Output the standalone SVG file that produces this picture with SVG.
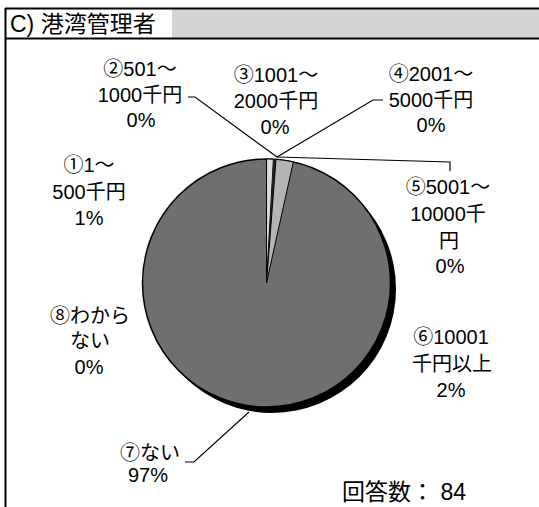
<svg xmlns="http://www.w3.org/2000/svg" width="539" height="507" viewBox="0 0 539 507">
<style>
.lbl{font-family:"Liberation Sans","Noto Sans CJK JP",sans-serif;font-size:20px;fill:#000;text-anchor:middle}
.ttl{font-family:"Liberation Sans","Noto Sans CJK JP",sans-serif;font-size:23px;fill:#000}
.c{font-family:"Noto Sans CJK JP",sans-serif}
.ld{fill:none;stroke:#000;stroke-width:1.2}
.sl{stroke:#000;stroke-width:1}
</style>
<rect x="0" y="0" width="539" height="507" fill="#fff"/>
<g id="frame">
<rect x="172" y="9" width="367" height="29" fill="#d4d4d4"/>
<line x1="5" y1="8.5" x2="539" y2="8.5" stroke="#000" stroke-width="2"/>
<line x1="5" y1="38.5" x2="539" y2="38.5" stroke="#000" stroke-width="2"/>
<line x1="5.5" y1="8" x2="5.5" y2="507" stroke="#000" stroke-width="2"/>
<text class="ttl" x="10" y="32">C) 港湾管理者</text>
</g>
<g id="pie">
<circle cx="272" cy="289" r="124" fill="#000"/>
<circle id="s7" cx="266.5" cy="283" r="124" fill="#6f6f6f" stroke="#000" stroke-width="1.5"/>
<path id="s1" class="sl" d="M266.5,283 L266.5,159 A124,124 0 0 1 273.42,159.19 Z" fill="#d8d8d8"/>
<path id="s2to5" d="M266.5,283 L273.42,159.19 A124,124 0 0 1 276.01,159.37 Z" fill="#222"/>
<path id="s6" class="sl" d="M266.5,283 L276.01,159.37 A124,124 0 0 1 293.34,161.94 Z" fill="#b4b4b4"/>
</g>
<g id="connectors">
<polyline class="ld" points="188,97 195,97 277,157"/>
<polyline class="ld" points="383,100 373,100 277,157"/>
<polyline class="ld" points="277,157 450,162 450,171"/>
<polyline class="ld" points="185,462 194,462 249,412"/>
</g>
<g id="label1"><text class="lbl" x="89" y="172"><tspan class="c">①</tspan>1～</text><text class="lbl" x="89" y="199">500千円</text><text class="lbl" x="89" y="225">1%</text></g>
<g id="label2"><text class="lbl" x="140" y="76"><tspan class="c">②</tspan>501～</text><text class="lbl" x="140" y="102">1000千円</text><text class="lbl" x="141" y="127">0%</text></g>
<g id="label3"><text class="lbl" x="276" y="82"><tspan class="c">③</tspan>1001～</text><text class="lbl" x="276" y="108">2000千円</text><text class="lbl" x="275" y="134">0%</text></g>
<g id="label4"><text class="lbl" x="431" y="81"><tspan class="c">④</tspan>2001～</text><text class="lbl" x="431" y="107">5000千円</text><text class="lbl" x="431" y="132">0%</text></g>
<g id="label5"><text class="lbl" x="448" y="194"><tspan class="c">⑤</tspan>5001～</text><text class="lbl" x="448" y="221">10000千</text><text class="lbl" x="449" y="248">円</text><text class="lbl" x="450" y="273">0%</text></g>
<g id="label6"><text class="lbl" x="451" y="344"><tspan class="c">⑥</tspan>10001</text><text class="lbl" x="452" y="371">千円以上</text><text class="lbl" x="451" y="397">2%</text></g>
<g id="label7"><text class="lbl" x="150" y="460"><tspan class="c">⑦</tspan>ない</text><text class="lbl" x="148" y="482">97%</text></g>
<g id="label8"><text class="lbl" x="90" y="323"><tspan class="c">⑧</tspan>わから</text><text class="lbl" x="90" y="348">ない</text><text class="lbl" x="89" y="374">0%</text></g>
<g id="count"><text class="lbl" x="404" y="500" style="font-size:23px">回答数： 84</text></g>
</svg>
